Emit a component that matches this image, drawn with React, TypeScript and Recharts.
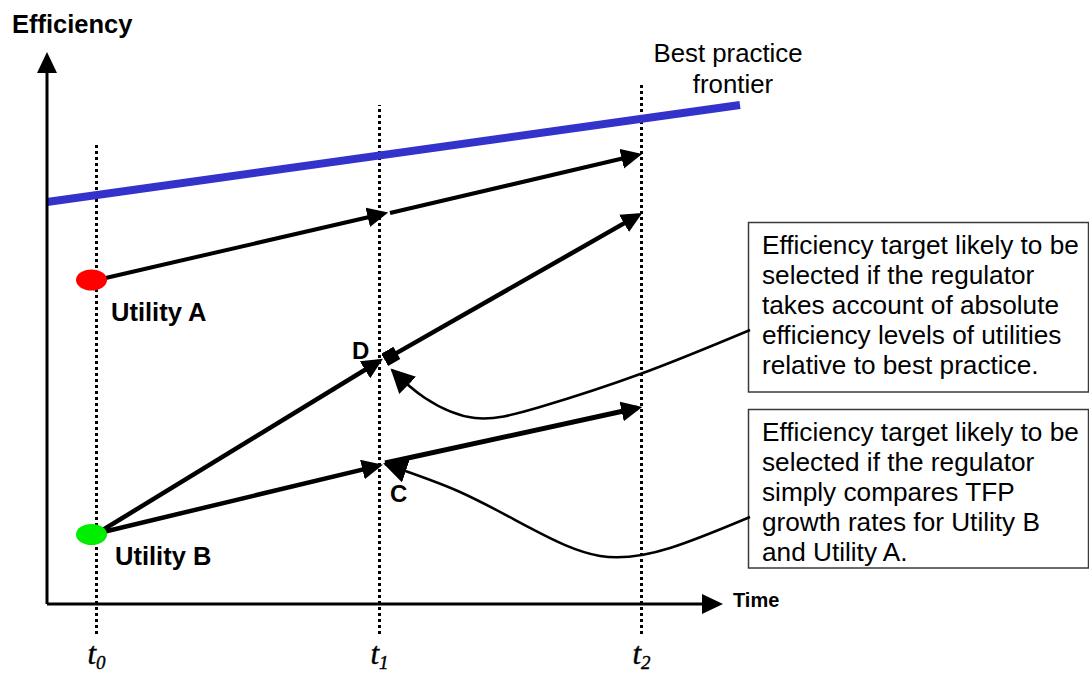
import React from 'react';
import { ComposedChart, Line, XAxis, YAxis, ReferenceDot } from 'recharts';

const W = 1089;
const H = 673;

// Data-space domains (time on x, efficiency on y)
const X_DOMAIN: [number, number] = [-7.015, 155.52];
const Y_DOMAIN: [number, number] = [-12.234, 107.092];

// Time points t0, t1, t2
const TIME_TICKS = [7.388, 49.627, 88.731];
const TIME_SUBS = ['0', '1', '2'];
const TIME_LINE_TOPS = [81.74, 88.48, 92.02];
const TIME_LINE_BOTTOM = -5.32;
const TIME_LABEL_Y = -10.6;

// Axes
const yAxisLine = [{ x: 0, y: 0 }, { x: 0, y: 96.99 }];
const xAxisLine = [{ x: 0, y: 0 }, { x: 100.15, y: 0 }];

// Best practice frontier
const frontier = [{ x: 0, y: 71.28 }, { x: 103.43, y: 88.48 }];

// Utilities
const utilityA = { x: 6.64, y: 57.45 };
const utilityB = { x: 6.64, y: 12.32 };

// Utility A path
const pathA1 = [{ x: 7.46, y: 57.45 }, { x: 50.2, y: 69.2 }];
const pathA2 = [{ x: 51.19, y: 69.33 }, { x: 88.1, y: 79.6 }];

// Target D path
const pathD1 = [{ x: 7.46, y: 12.5 }, { x: 49.5, y: 43.0 }];
const pathD2 = [{ x: 51.3, y: 43.9 }, { x: 88.2, y: 68.9 }];

// Target C path
const pathC1 = [{ x: 7.46, y: 12.5 }, { x: 49.4, y: 24.5 }];
const pathC2 = [{ x: 50.45, y: 25.0 }, { x: 88.1, y: 34.75 }];

// Callout curves (from box to target)
const calloutD = [
  { x: 104.93, y: 48.58 },
  { x: 88.96, y: 40.96 },
  { x: 73.58, y: 34.93 },
  { x: 63.88, y: 32.98 },
  { x: 56.42, y: 36.52 },
  { x: 51.49, y: 41.49 },
];
const calloutC = [
  { x: 104.93, y: 15.43 },
  { x: 92.99, y: 9.93 },
  { x: 82.54, y: 8.51 },
  { x: 72.09, y: 13.48 },
  { x: 61.64, y: 19.86 },
  { x: 50.45, y: 24.82 },
];

const box1Lines = [
  'Efficiency target likely to be',
  'selected if the regulator',
  'takes account of absolute',
  'efficiency levels of utilities',
  'relative to best practice.',
];
const box2Lines = [
  'Efficiency target likely to be',
  'selected if the regulator',
  'simply compares TFP',
  'growth rates for Utility B',
  'and Utility A.',
];

const SANS = "'Liberation Sans', Arial, Helvetica, sans-serif";
const SERIF = "'Liberation Serif', 'Times New Roman', serif";

const timeLabelShape = (sub: string) => (p: any) => (
  <text x={p.cx} y={p.cy} textAnchor="middle" fontFamily={SERIF} fontStyle="italic" fontSize={31} fill="#000" stroke="#000" strokeWidth={0.4}>
    t<tspan fontSize={19} dy={5}>{sub}</tspan>
  </text>
);

const ellipseShape = (fill: string) => (p: any) => (
  <ellipse cx={p.cx} cy={p.cy} rx={15.5} ry={10.5} fill={fill} />
);

const common = {
  dataKey: 'y',
  dot: false,
  activeDot: false,
  isAnimationActive: false,
  legendType: 'none' as const,
  type: 'linear' as const,
};

const TextBox = ({ x, y, w, h, lines, base }: any) => (
  <g>
    <rect x={x} y={y} width={w} height={h} fill="#fff" stroke="#3a3a3a" strokeWidth={1.5} />
    {lines.map((l: string, i: number) => (
      <text key={i} x={762} y={base + i * 30} fontFamily={SANS} fontSize={26.2} fill="#000">
        {l}
      </text>
    ))}
  </g>
);

export default function App() {
  return (
    <div style={{ position: 'absolute', left: 0, top: 0, width: W, height: H, background: '#fff' }}>
      <ComposedChart width={W} height={H} margin={{ top: 0, right: 0, bottom: 0, left: 0 }}>
        <defs>
          <marker id="arrow" markerUnits="userSpaceOnUse" markerWidth={24} markerHeight={22} refX={16} refY={10} orient="auto">
            <path d="M0,0 L21,10 L0,20 Z" fill="#000" />
          </marker>
          <marker id="arrowBig" markerUnits="userSpaceOnUse" markerWidth={26} markerHeight={26} refX={22} refY={12} orient="auto">
            <path d="M0,0 L24,12 L0,24 Z" fill="#000" />
          </marker>
          <marker id="square" markerUnits="userSpaceOnUse" markerWidth={16} markerHeight={16} refX={7} refY={7} orient="auto">
            <path d="M0,0 L14,0 L14,14 L0,14 Z" fill="#000" />
          </marker>
        </defs>
        <XAxis type="number" dataKey="x" domain={X_DOMAIN} hide height={0} />
        <YAxis type="number" dataKey="y" domain={Y_DOMAIN} hide width={0} />

        {TIME_TICKS.map((t, i) => (
          <Line
            key={'tl' + i}
            {...common}
            data={[{ x: t, y: TIME_LINE_BOTTOM }, { x: t, y: TIME_LINE_TOPS[i] }]}
            stroke="#000"
            strokeWidth={3}
            strokeDasharray="3 3"
          />
        ))}

        <Line {...common} data={frontier} stroke="#3333CC" strokeWidth={8} />

        <Line {...common} data={yAxisLine} stroke="#000" strokeWidth={3} markerEnd="url(#arrow)" />
        <Line {...common} data={xAxisLine} stroke="#000" strokeWidth={3} markerEnd="url(#arrow)" />

        <Line {...common} data={pathA1} stroke="#000" strokeWidth={4} markerEnd="url(#arrow)" />
        <Line {...common} data={pathA2} stroke="#000" strokeWidth={4} markerEnd="url(#arrow)" />
        <Line {...common} data={pathD1} stroke="#000" strokeWidth={4.5} markerEnd="url(#arrow)" />
        <Line {...common} data={pathD2} stroke="#000" strokeWidth={4.5} markerStart="url(#square)" markerEnd="url(#arrow)" />
        <Line {...common} data={pathC1} stroke="#000" strokeWidth={4.5} markerEnd="url(#arrow)" />
        <Line {...common} data={pathC2} stroke="#000" strokeWidth={5} markerEnd="url(#arrow)" />

        <Line {...common} type="natural" data={calloutD} stroke="#000" strokeWidth={2.5} markerEnd="url(#arrowBig)" />
        <Line {...common} type="natural" data={calloutC} stroke="#000" strokeWidth={2.5} markerEnd="url(#arrowBig)" />

        <ReferenceDot x={utilityA.x} y={utilityA.y} r={10} shape={ellipseShape('#FF0000')} />
        <ReferenceDot x={utilityB.x} y={utilityB.y} r={10} shape={ellipseShape('#00EE00')} />

        {TIME_TICKS.map((t, i) => (
          <ReferenceDot key={'lab' + i} x={t} y={TIME_LABEL_Y} r={1} shape={timeLabelShape(TIME_SUBS[i])} />
        ))}

        <g>
          <text x={12} y={33} fontFamily={SANS} fontWeight="bold" fontSize={25.5} fill="#000">Efficiency</text>
          <text x={733} y={607} fontFamily={SANS} fontWeight="bold" fontSize={20} fill="#000">Time</text>
          <text x={728} y={62} textAnchor="middle" fontFamily={SANS} fontSize={25.8} fill="#000">Best practice</text>
          <text x={733} y={93} textAnchor="middle" fontFamily={SANS} fontSize={25.8} fill="#000">frontier</text>
          <text x={111} y={321} fontFamily={SANS} fontWeight="bold" fontSize={25.5} fill="#000">Utility A</text>
          <text x={115} y={565} fontFamily={SANS} fontWeight="bold" fontSize={25.5} fill="#000">Utility B</text>
          <text x={352} y={359} fontFamily={SANS} fontWeight="bold" fontSize={24} fill="#000">D</text>
          <text x={390} y={502} fontFamily={SANS} fontWeight="bold" fontSize={24} fill="#000">C</text>
          <TextBox x={748.5} y={222.5} w={340} h={169.5} lines={box1Lines} base={254} />
          <TextBox x={748.5} y={409.5} w={340} h={158.5} lines={box2Lines} base={441} />
        </g>
      </ComposedChart>
    </div>
  );
}
